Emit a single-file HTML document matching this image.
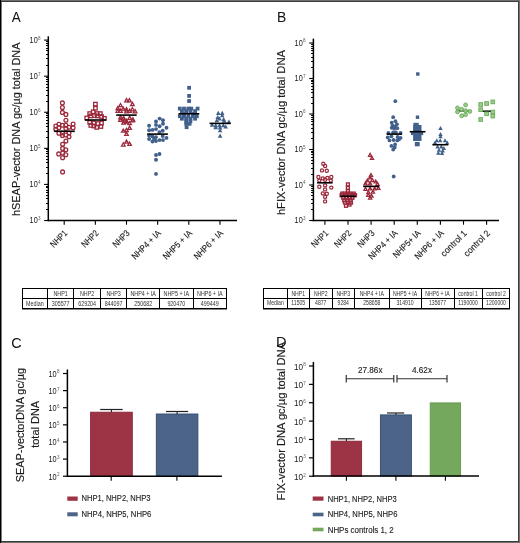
<!DOCTYPE html>
<html><head><meta charset="utf-8"><style>
html,body{margin:0;padding:0;background:#fff;}
svg{display:block;will-change:transform;}
text{font-family:"Liberation Sans", sans-serif;}
</style></head><body>
<svg width="520" height="543" viewBox="0 0 520 543" font-family="Liberation Sans, sans-serif">
<rect x="0.00" y="0.00" width="520.00" height="543.00" fill="#fff" stroke="none" stroke-width="0"/>
<rect x="0.00" y="0.00" width="520.00" height="1.00" fill="#6e6e6e" stroke="none" stroke-width="0"/>
<rect x="0.00" y="1.00" width="520.00" height="1.00" fill="#3c3c3c" stroke="none" stroke-width="0"/>
<rect x="519.00" y="0.00" width="1.00" height="543.00" fill="#707070" stroke="none" stroke-width="0"/>
<rect x="518.00" y="1.00" width="1.00" height="541.00" fill="#3c3c3c" stroke="none" stroke-width="0"/>
<rect x="0.00" y="542.00" width="520.00" height="1.00" fill="#6e6e6e" stroke="none" stroke-width="0"/>
<rect x="0.00" y="541.00" width="519.00" height="1.00" fill="#3c3c3c" stroke="none" stroke-width="0"/>
<rect x="0.00" y="0.00" width="1.00" height="543.00" fill="#000" stroke="none" stroke-width="0"/>
<rect x="1.00" y="2.00" width="1.00" height="539.00" fill="#7a7a7a" stroke="none" stroke-width="0"/>
<text x="11.80" y="21.80" font-size="15.3" text-anchor="start" fill="#111" textLength="9.00" lengthAdjust="spacingAndGlyphs" >A</text>
<text x="0" y="0" font-size="10.8" fill="#1a1a1a" stroke="#1a1a1a" stroke-width="0.15" transform="translate(19.8 216.0) rotate(-90)" textLength="173.5" lengthAdjust="spacingAndGlyphs">hSEAP-vector DNA gc/µg total DNA</text>
<line x1="48.30" y1="36.30" x2="48.30" y2="221.25" stroke="#000" stroke-width="1.5"/>
<line x1="44.10" y1="220.50" x2="48.30" y2="220.50" stroke="#000" stroke-width="1.1"/>
<text x="37.70" y="223.30" font-size="8.5" text-anchor="end" fill="#1a1a1a" textLength="8.10" lengthAdjust="spacingAndGlyphs" >10</text>
<text x="38.00" y="220.24" font-size="4.6" text-anchor="start" fill="#5a5a5a" >3</text>
<line x1="46.00" y1="209.50" x2="48.30" y2="209.50" stroke="#000" stroke-width="1.0"/>
<line x1="46.00" y1="203.50" x2="48.30" y2="203.50" stroke="#000" stroke-width="1.0"/>
<line x1="46.00" y1="198.50" x2="48.30" y2="198.50" stroke="#000" stroke-width="1.0"/>
<line x1="46.00" y1="195.50" x2="48.30" y2="195.50" stroke="#000" stroke-width="1.0"/>
<line x1="46.00" y1="192.50" x2="48.30" y2="192.50" stroke="#000" stroke-width="1.0"/>
<line x1="46.00" y1="190.50" x2="48.30" y2="190.50" stroke="#000" stroke-width="1.0"/>
<line x1="46.00" y1="187.50" x2="48.30" y2="187.50" stroke="#000" stroke-width="1.0"/>
<line x1="46.00" y1="186.50" x2="48.30" y2="186.50" stroke="#000" stroke-width="1.0"/>
<line x1="44.10" y1="184.42" x2="48.30" y2="184.42" stroke="#000" stroke-width="1.1"/>
<text x="37.70" y="187.22" font-size="8.5" text-anchor="end" fill="#1a1a1a" textLength="8.10" lengthAdjust="spacingAndGlyphs" >10</text>
<text x="38.00" y="184.16" font-size="4.6" text-anchor="start" fill="#5a5a5a" >4</text>
<line x1="46.00" y1="173.50" x2="48.30" y2="173.50" stroke="#000" stroke-width="1.0"/>
<line x1="46.00" y1="167.50" x2="48.30" y2="167.50" stroke="#000" stroke-width="1.0"/>
<line x1="46.00" y1="162.50" x2="48.30" y2="162.50" stroke="#000" stroke-width="1.0"/>
<line x1="46.00" y1="159.50" x2="48.30" y2="159.50" stroke="#000" stroke-width="1.0"/>
<line x1="46.00" y1="156.50" x2="48.30" y2="156.50" stroke="#000" stroke-width="1.0"/>
<line x1="46.00" y1="153.50" x2="48.30" y2="153.50" stroke="#000" stroke-width="1.0"/>
<line x1="46.00" y1="151.50" x2="48.30" y2="151.50" stroke="#000" stroke-width="1.0"/>
<line x1="46.00" y1="149.50" x2="48.30" y2="149.50" stroke="#000" stroke-width="1.0"/>
<line x1="44.10" y1="148.34" x2="48.30" y2="148.34" stroke="#000" stroke-width="1.1"/>
<text x="37.70" y="151.14" font-size="8.5" text-anchor="end" fill="#1a1a1a" textLength="8.10" lengthAdjust="spacingAndGlyphs" >10</text>
<text x="38.00" y="148.08" font-size="4.6" text-anchor="start" fill="#5a5a5a" >5</text>
<line x1="46.00" y1="137.50" x2="48.30" y2="137.50" stroke="#000" stroke-width="1.0"/>
<line x1="46.00" y1="131.50" x2="48.30" y2="131.50" stroke="#000" stroke-width="1.0"/>
<line x1="46.00" y1="126.50" x2="48.30" y2="126.50" stroke="#000" stroke-width="1.0"/>
<line x1="46.00" y1="123.50" x2="48.30" y2="123.50" stroke="#000" stroke-width="1.0"/>
<line x1="46.00" y1="120.50" x2="48.30" y2="120.50" stroke="#000" stroke-width="1.0"/>
<line x1="46.00" y1="117.50" x2="48.30" y2="117.50" stroke="#000" stroke-width="1.0"/>
<line x1="46.00" y1="115.50" x2="48.30" y2="115.50" stroke="#000" stroke-width="1.0"/>
<line x1="46.00" y1="113.50" x2="48.30" y2="113.50" stroke="#000" stroke-width="1.0"/>
<line x1="44.10" y1="112.26" x2="48.30" y2="112.26" stroke="#000" stroke-width="1.1"/>
<text x="37.70" y="115.06" font-size="8.5" text-anchor="end" fill="#1a1a1a" textLength="8.10" lengthAdjust="spacingAndGlyphs" >10</text>
<text x="38.00" y="112.00" font-size="4.6" text-anchor="start" fill="#5a5a5a" >6</text>
<line x1="46.00" y1="101.50" x2="48.30" y2="101.50" stroke="#000" stroke-width="1.0"/>
<line x1="46.00" y1="95.50" x2="48.30" y2="95.50" stroke="#000" stroke-width="1.0"/>
<line x1="46.00" y1="90.50" x2="48.30" y2="90.50" stroke="#000" stroke-width="1.0"/>
<line x1="46.00" y1="87.50" x2="48.30" y2="87.50" stroke="#000" stroke-width="1.0"/>
<line x1="46.00" y1="84.50" x2="48.30" y2="84.50" stroke="#000" stroke-width="1.0"/>
<line x1="46.00" y1="81.50" x2="48.30" y2="81.50" stroke="#000" stroke-width="1.0"/>
<line x1="46.00" y1="79.50" x2="48.30" y2="79.50" stroke="#000" stroke-width="1.0"/>
<line x1="46.00" y1="77.50" x2="48.30" y2="77.50" stroke="#000" stroke-width="1.0"/>
<line x1="44.10" y1="76.18" x2="48.30" y2="76.18" stroke="#000" stroke-width="1.1"/>
<text x="37.70" y="78.98" font-size="8.5" text-anchor="end" fill="#1a1a1a" textLength="8.10" lengthAdjust="spacingAndGlyphs" >10</text>
<text x="38.00" y="75.92" font-size="4.6" text-anchor="start" fill="#5a5a5a" >7</text>
<line x1="46.00" y1="65.50" x2="48.30" y2="65.50" stroke="#000" stroke-width="1.0"/>
<line x1="46.00" y1="58.50" x2="48.30" y2="58.50" stroke="#000" stroke-width="1.0"/>
<line x1="46.00" y1="54.50" x2="48.30" y2="54.50" stroke="#000" stroke-width="1.0"/>
<line x1="46.00" y1="50.50" x2="48.30" y2="50.50" stroke="#000" stroke-width="1.0"/>
<line x1="46.00" y1="48.50" x2="48.30" y2="48.50" stroke="#000" stroke-width="1.0"/>
<line x1="46.00" y1="45.50" x2="48.30" y2="45.50" stroke="#000" stroke-width="1.0"/>
<line x1="46.00" y1="43.50" x2="48.30" y2="43.50" stroke="#000" stroke-width="1.0"/>
<line x1="46.00" y1="41.50" x2="48.30" y2="41.50" stroke="#000" stroke-width="1.0"/>
<line x1="44.10" y1="40.10" x2="48.30" y2="40.10" stroke="#000" stroke-width="1.1"/>
<text x="37.70" y="42.90" font-size="8.5" text-anchor="end" fill="#1a1a1a" textLength="8.10" lengthAdjust="spacingAndGlyphs" >10</text>
<text x="38.00" y="39.84" font-size="4.6" text-anchor="start" fill="#5a5a5a" >8</text>
<line x1="47.60" y1="220.50" x2="237.00" y2="220.50" stroke="#000" stroke-width="1.5"/>
<line x1="64.20" y1="220.50" x2="64.20" y2="224.70" stroke="#000" stroke-width="1.1"/>
<text x="68.00" y="233.80" font-size="9.0" text-anchor="end" fill="#1a1a1a" stroke="#1a1a1a" stroke-width="0.12" textLength="20.00" lengthAdjust="spacingAndGlyphs" transform="rotate(-45 68.00 233.80)">NHP1</text>
<line x1="95.35" y1="220.50" x2="95.35" y2="224.70" stroke="#000" stroke-width="1.1"/>
<text x="99.15" y="233.80" font-size="9.0" text-anchor="end" fill="#1a1a1a" stroke="#1a1a1a" stroke-width="0.12" textLength="20.00" lengthAdjust="spacingAndGlyphs" transform="rotate(-45 99.15 233.80)">NHP2</text>
<line x1="126.50" y1="220.50" x2="126.50" y2="224.70" stroke="#000" stroke-width="1.1"/>
<text x="130.30" y="233.80" font-size="9.0" text-anchor="end" fill="#1a1a1a" stroke="#1a1a1a" stroke-width="0.12" textLength="20.00" lengthAdjust="spacingAndGlyphs" transform="rotate(-45 130.30 233.80)">NHP3</text>
<line x1="157.65" y1="220.50" x2="157.65" y2="224.70" stroke="#000" stroke-width="1.1"/>
<text x="161.45" y="233.80" font-size="9.0" text-anchor="end" fill="#1a1a1a" stroke="#1a1a1a" stroke-width="0.12" textLength="37.00" lengthAdjust="spacingAndGlyphs" transform="rotate(-45 161.45 233.80)">NHP4 + IA</text>
<line x1="188.80" y1="220.50" x2="188.80" y2="224.70" stroke="#000" stroke-width="1.1"/>
<text x="192.60" y="233.80" font-size="9.0" text-anchor="end" fill="#1a1a1a" stroke="#1a1a1a" stroke-width="0.12" textLength="37.00" lengthAdjust="spacingAndGlyphs" transform="rotate(-45 192.60 233.80)">NHP5 + IA</text>
<line x1="219.95" y1="220.50" x2="219.95" y2="224.70" stroke="#000" stroke-width="1.1"/>
<text x="223.75" y="233.80" font-size="9.0" text-anchor="end" fill="#1a1a1a" stroke="#1a1a1a" stroke-width="0.12" textLength="37.00" lengthAdjust="spacingAndGlyphs" transform="rotate(-45 223.75 233.80)">NHP6 + IA</text>
<circle cx="62.40" cy="102.90" r="1.9" fill="none" stroke="#9c2a3c" stroke-width="1.3"/>
<circle cx="62.40" cy="107.50" r="1.9" fill="none" stroke="#9c2a3c" stroke-width="1.3"/>
<circle cx="62.40" cy="112.40" r="1.9" fill="none" stroke="#9c2a3c" stroke-width="1.3"/>
<circle cx="65.90" cy="114.40" r="1.9" fill="none" stroke="#9c2a3c" stroke-width="1.3"/>
<circle cx="65.90" cy="120.20" r="1.9" fill="none" stroke="#9c2a3c" stroke-width="1.3"/>
<circle cx="55.80" cy="126.10" r="1.9" fill="none" stroke="#9c2a3c" stroke-width="1.3"/>
<circle cx="58.90" cy="124.20" r="1.9" fill="none" stroke="#9c2a3c" stroke-width="1.3"/>
<circle cx="62.40" cy="125.30" r="1.9" fill="none" stroke="#9c2a3c" stroke-width="1.3"/>
<circle cx="65.90" cy="125.20" r="1.9" fill="none" stroke="#9c2a3c" stroke-width="1.3"/>
<circle cx="73.10" cy="124.10" r="1.9" fill="none" stroke="#9c2a3c" stroke-width="1.3"/>
<circle cx="58.90" cy="127.80" r="1.9" fill="none" stroke="#9c2a3c" stroke-width="1.3"/>
<circle cx="55.80" cy="129.30" r="1.9" fill="none" stroke="#9c2a3c" stroke-width="1.3"/>
<circle cx="69.00" cy="127.20" r="1.9" fill="none" stroke="#9c2a3c" stroke-width="1.3"/>
<circle cx="73.10" cy="127.80" r="1.9" fill="none" stroke="#9c2a3c" stroke-width="1.3"/>
<circle cx="65.90" cy="128.40" r="1.9" fill="none" stroke="#9c2a3c" stroke-width="1.3"/>
<circle cx="58.90" cy="133.30" r="1.9" fill="none" stroke="#9c2a3c" stroke-width="1.3"/>
<circle cx="62.40" cy="133.00" r="1.9" fill="none" stroke="#9c2a3c" stroke-width="1.3"/>
<circle cx="65.90" cy="135.00" r="1.9" fill="none" stroke="#9c2a3c" stroke-width="1.3"/>
<circle cx="62.40" cy="135.60" r="1.9" fill="none" stroke="#9c2a3c" stroke-width="1.3"/>
<circle cx="69.00" cy="133.00" r="1.9" fill="none" stroke="#9c2a3c" stroke-width="1.3"/>
<circle cx="69.00" cy="136.80" r="1.9" fill="none" stroke="#9c2a3c" stroke-width="1.3"/>
<circle cx="65.90" cy="141.10" r="1.9" fill="none" stroke="#9c2a3c" stroke-width="1.3"/>
<circle cx="62.60" cy="144.20" r="1.9" fill="none" stroke="#9c2a3c" stroke-width="1.3"/>
<circle cx="62.60" cy="148.40" r="1.9" fill="none" stroke="#9c2a3c" stroke-width="1.3"/>
<circle cx="65.80" cy="149.70" r="1.9" fill="none" stroke="#9c2a3c" stroke-width="1.3"/>
<circle cx="58.70" cy="153.90" r="1.9" fill="none" stroke="#9c2a3c" stroke-width="1.3"/>
<circle cx="62.60" cy="152.90" r="1.9" fill="none" stroke="#9c2a3c" stroke-width="1.3"/>
<circle cx="65.80" cy="154.80" r="1.9" fill="none" stroke="#9c2a3c" stroke-width="1.3"/>
<circle cx="62.60" cy="157.70" r="1.9" fill="none" stroke="#9c2a3c" stroke-width="1.3"/>
<circle cx="62.60" cy="171.90" r="1.9" fill="none" stroke="#9c2a3c" stroke-width="1.3"/>
<line x1="54.00" y1="131.30" x2="74.80" y2="131.30" stroke="#000" stroke-width="1.6"/>
<rect x="93.65" y="102.35" width="3.5" height="3.5" fill="none" stroke="#9c2a3c" stroke-width="1.3"/>
<rect x="93.65" y="106.55" width="3.5" height="3.5" fill="none" stroke="#9c2a3c" stroke-width="1.3"/>
<rect x="91.45" y="110.05" width="3.5" height="3.5" fill="none" stroke="#9c2a3c" stroke-width="1.3"/>
<rect x="87.95" y="111.85" width="3.5" height="3.5" fill="none" stroke="#9c2a3c" stroke-width="1.3"/>
<rect x="95.25" y="111.85" width="3.5" height="3.5" fill="none" stroke="#9c2a3c" stroke-width="1.3"/>
<rect x="98.55" y="111.85" width="3.5" height="3.5" fill="none" stroke="#9c2a3c" stroke-width="1.3"/>
<rect x="89.05" y="114.15" width="3.5" height="3.5" fill="none" stroke="#9c2a3c" stroke-width="1.3"/>
<rect x="92.65" y="113.85" width="3.5" height="3.5" fill="none" stroke="#9c2a3c" stroke-width="1.3"/>
<rect x="95.55" y="114.15" width="3.5" height="3.5" fill="none" stroke="#9c2a3c" stroke-width="1.3"/>
<rect x="99.75" y="114.75" width="3.5" height="3.5" fill="none" stroke="#9c2a3c" stroke-width="1.3"/>
<rect x="84.95" y="116.25" width="3.5" height="3.5" fill="none" stroke="#9c2a3c" stroke-width="1.3"/>
<rect x="102.65" y="116.55" width="3.5" height="3.5" fill="none" stroke="#9c2a3c" stroke-width="1.3"/>
<rect x="87.95" y="120.65" width="3.5" height="3.5" fill="none" stroke="#9c2a3c" stroke-width="1.3"/>
<rect x="92.05" y="121.25" width="3.5" height="3.5" fill="none" stroke="#9c2a3c" stroke-width="1.3"/>
<rect x="96.15" y="121.85" width="3.5" height="3.5" fill="none" stroke="#9c2a3c" stroke-width="1.3"/>
<rect x="99.75" y="121.25" width="3.5" height="3.5" fill="none" stroke="#9c2a3c" stroke-width="1.3"/>
<rect x="89.05" y="123.65" width="3.5" height="3.5" fill="none" stroke="#9c2a3c" stroke-width="1.3"/>
<rect x="99.15" y="124.75" width="3.5" height="3.5" fill="none" stroke="#9c2a3c" stroke-width="1.3"/>
<rect x="94.95" y="125.65" width="3.5" height="3.5" fill="none" stroke="#9c2a3c" stroke-width="1.3"/>
<rect x="92.05" y="124.25" width="3.5" height="3.5" fill="none" stroke="#9c2a3c" stroke-width="1.3"/>
<line x1="85.00" y1="120.00" x2="106.20" y2="120.00" stroke="#000" stroke-width="1.6"/>
<polygon points="126.50,98.66 128.30,101.90 124.70,101.90" fill="none" stroke="#9c2a3c" stroke-width="1.25" stroke-linejoin="miter"/>
<polygon points="129.40,98.66 131.20,101.90 127.60,101.90" fill="none" stroke="#9c2a3c" stroke-width="1.25" stroke-linejoin="miter"/>
<polygon points="132.40,102.36 134.20,105.60 130.60,105.60" fill="none" stroke="#9c2a3c" stroke-width="1.25" stroke-linejoin="miter"/>
<polygon points="120.50,103.46 122.30,106.70 118.70,106.70" fill="none" stroke="#9c2a3c" stroke-width="1.25" stroke-linejoin="miter"/>
<polygon points="117.80,106.46 119.60,109.70 116.00,109.70" fill="none" stroke="#9c2a3c" stroke-width="1.25" stroke-linejoin="miter"/>
<polygon points="123.20,106.96 125.00,110.20 121.40,110.20" fill="none" stroke="#9c2a3c" stroke-width="1.25" stroke-linejoin="miter"/>
<polygon points="126.50,107.56 128.30,110.80 124.70,110.80" fill="none" stroke="#9c2a3c" stroke-width="1.25" stroke-linejoin="miter"/>
<polygon points="132.40,107.56 134.20,110.80 130.60,110.80" fill="none" stroke="#9c2a3c" stroke-width="1.25" stroke-linejoin="miter"/>
<polygon points="117.80,109.06 119.60,112.30 116.00,112.30" fill="none" stroke="#9c2a3c" stroke-width="1.25" stroke-linejoin="miter"/>
<polygon points="120.50,109.06 122.30,112.30 118.70,112.30" fill="none" stroke="#9c2a3c" stroke-width="1.25" stroke-linejoin="miter"/>
<polygon points="126.50,109.66 128.30,112.90 124.70,112.90" fill="none" stroke="#9c2a3c" stroke-width="1.25" stroke-linejoin="miter"/>
<polygon points="129.70,109.06 131.50,112.30 127.90,112.30" fill="none" stroke="#9c2a3c" stroke-width="1.25" stroke-linejoin="miter"/>
<polygon points="135.10,109.66 136.90,112.90 133.30,112.90" fill="none" stroke="#9c2a3c" stroke-width="1.25" stroke-linejoin="miter"/>
<polygon points="120.50,115.56 122.30,118.80 118.70,118.80" fill="none" stroke="#9c2a3c" stroke-width="1.25" stroke-linejoin="miter"/>
<polygon points="123.80,116.66 125.60,119.90 122.00,119.90" fill="none" stroke="#9c2a3c" stroke-width="1.25" stroke-linejoin="miter"/>
<polygon points="129.70,116.06 131.50,119.30 127.90,119.30" fill="none" stroke="#9c2a3c" stroke-width="1.25" stroke-linejoin="miter"/>
<polygon points="132.90,117.76 134.70,121.00 131.10,121.00" fill="none" stroke="#9c2a3c" stroke-width="1.25" stroke-linejoin="miter"/>
<polygon points="126.50,119.36 128.30,122.60 124.70,122.60" fill="none" stroke="#9c2a3c" stroke-width="1.25" stroke-linejoin="miter"/>
<polygon points="123.30,116.76 125.10,120.00 121.50,120.00" fill="none" stroke="#9c2a3c" stroke-width="1.25" stroke-linejoin="miter"/>
<polygon points="120.50,118.06 122.30,121.30 118.70,121.30" fill="none" stroke="#9c2a3c" stroke-width="1.25" stroke-linejoin="miter"/>
<polygon points="132.70,118.66 134.50,121.90 130.90,121.90" fill="none" stroke="#9c2a3c" stroke-width="1.25" stroke-linejoin="miter"/>
<polygon points="123.60,120.86 125.40,124.10 121.80,124.10" fill="none" stroke="#9c2a3c" stroke-width="1.25" stroke-linejoin="miter"/>
<polygon points="126.50,119.86 128.30,123.10 124.70,123.10" fill="none" stroke="#9c2a3c" stroke-width="1.25" stroke-linejoin="miter"/>
<polygon points="129.60,121.46 131.40,124.70 127.80,124.70" fill="none" stroke="#9c2a3c" stroke-width="1.25" stroke-linejoin="miter"/>
<polygon points="129.60,126.16 131.40,129.40 127.80,129.40" fill="none" stroke="#9c2a3c" stroke-width="1.25" stroke-linejoin="miter"/>
<polygon points="126.50,128.36 128.30,131.60 124.70,131.60" fill="none" stroke="#9c2a3c" stroke-width="1.25" stroke-linejoin="miter"/>
<polygon points="123.30,128.96 125.10,132.20 121.50,132.20" fill="none" stroke="#9c2a3c" stroke-width="1.25" stroke-linejoin="miter"/>
<polygon points="126.50,132.06 128.30,135.30 124.70,135.30" fill="none" stroke="#9c2a3c" stroke-width="1.25" stroke-linejoin="miter"/>
<polygon points="126.50,139.96 128.30,143.20 124.70,143.20" fill="none" stroke="#9c2a3c" stroke-width="1.25" stroke-linejoin="miter"/>
<polygon points="123.30,142.76 125.10,146.00 121.50,146.00" fill="none" stroke="#9c2a3c" stroke-width="1.25" stroke-linejoin="miter"/>
<polygon points="129.60,142.16 131.40,145.40 127.80,145.40" fill="none" stroke="#9c2a3c" stroke-width="1.25" stroke-linejoin="miter"/>
<line x1="116.20" y1="115.10" x2="136.70" y2="115.10" stroke="#000" stroke-width="1.6"/>
<circle cx="159.60" cy="118.60" r="1.95" fill="#41608c"/>
<circle cx="156.00" cy="121.40" r="1.95" fill="#41608c"/>
<circle cx="163.00" cy="120.20" r="1.95" fill="#41608c"/>
<circle cx="163.00" cy="123.80" r="1.95" fill="#41608c"/>
<circle cx="156.00" cy="124.90" r="1.95" fill="#41608c"/>
<circle cx="159.60" cy="126.30" r="1.95" fill="#41608c"/>
<circle cx="149.10" cy="125.80" r="1.95" fill="#41608c"/>
<circle cx="166.50" cy="127.70" r="1.95" fill="#41608c"/>
<circle cx="149.10" cy="130.20" r="1.95" fill="#41608c"/>
<circle cx="152.50" cy="129.90" r="1.95" fill="#41608c"/>
<circle cx="156.00" cy="129.10" r="1.95" fill="#41608c"/>
<circle cx="159.40" cy="132.10" r="1.95" fill="#41608c"/>
<circle cx="162.70" cy="130.70" r="1.95" fill="#41608c"/>
<circle cx="149.10" cy="135.40" r="1.95" fill="#41608c"/>
<circle cx="152.50" cy="136.50" r="1.95" fill="#41608c"/>
<circle cx="156.00" cy="137.10" r="1.95" fill="#41608c"/>
<circle cx="162.70" cy="136.00" r="1.95" fill="#41608c"/>
<circle cx="166.50" cy="137.90" r="1.95" fill="#41608c"/>
<circle cx="149.10" cy="139.00" r="1.95" fill="#41608c"/>
<circle cx="152.50" cy="141.50" r="1.95" fill="#41608c"/>
<circle cx="156.00" cy="141.00" r="1.95" fill="#41608c"/>
<circle cx="159.60" cy="140.10" r="1.95" fill="#41608c"/>
<circle cx="163.00" cy="140.10" r="1.95" fill="#41608c"/>
<circle cx="154.10" cy="138.80" r="1.95" fill="#41608c"/>
<circle cx="156.00" cy="155.00" r="1.95" fill="#41608c"/>
<circle cx="159.50" cy="154.00" r="1.95" fill="#41608c"/>
<circle cx="156.00" cy="159.70" r="1.95" fill="#41608c"/>
<circle cx="156.00" cy="173.90" r="1.95" fill="#41608c"/>
<line x1="147.20" y1="134.10" x2="167.90" y2="134.10" stroke="#000" stroke-width="1.6"/>
<rect x="187.20" y="85.90" width="3.8" height="3.8" fill="#41608c"/>
<rect x="187.20" y="94.00" width="3.8" height="3.8" fill="#41608c"/>
<rect x="187.20" y="99.10" width="3.8" height="3.8" fill="#41608c"/>
<rect x="177.90" y="106.70" width="3.8" height="3.8" fill="#41608c"/>
<rect x="182.10" y="106.70" width="3.8" height="3.8" fill="#41608c"/>
<rect x="186.40" y="106.70" width="3.8" height="3.8" fill="#41608c"/>
<rect x="189.40" y="106.70" width="3.8" height="3.8" fill="#41608c"/>
<rect x="195.70" y="106.70" width="3.8" height="3.8" fill="#41608c"/>
<rect x="180.00" y="109.20" width="3.8" height="3.8" fill="#41608c"/>
<rect x="184.30" y="109.20" width="3.8" height="3.8" fill="#41608c"/>
<rect x="188.50" y="109.20" width="3.8" height="3.8" fill="#41608c"/>
<rect x="193.20" y="109.20" width="3.8" height="3.8" fill="#41608c"/>
<rect x="177.90" y="114.30" width="3.8" height="3.8" fill="#41608c"/>
<rect x="182.10" y="114.30" width="3.8" height="3.8" fill="#41608c"/>
<rect x="186.40" y="114.30" width="3.8" height="3.8" fill="#41608c"/>
<rect x="191.00" y="114.30" width="3.8" height="3.8" fill="#41608c"/>
<rect x="194.90" y="114.30" width="3.8" height="3.8" fill="#41608c"/>
<rect x="180.00" y="116.80" width="3.8" height="3.8" fill="#41608c"/>
<rect x="184.30" y="116.80" width="3.8" height="3.8" fill="#41608c"/>
<rect x="188.50" y="116.80" width="3.8" height="3.8" fill="#41608c"/>
<rect x="193.20" y="116.80" width="3.8" height="3.8" fill="#41608c"/>
<rect x="184.30" y="119.40" width="3.8" height="3.8" fill="#41608c"/>
<rect x="188.50" y="119.40" width="3.8" height="3.8" fill="#41608c"/>
<rect x="184.30" y="121.90" width="3.8" height="3.8" fill="#41608c"/>
<rect x="187.70" y="121.90" width="3.8" height="3.8" fill="#41608c"/>
<rect x="184.70" y="125.30" width="3.8" height="3.8" fill="#41608c"/>
<rect x="182.10" y="111.90" width="3.8" height="3.8" fill="#41608c"/>
<rect x="192.10" y="111.90" width="3.8" height="3.8" fill="#41608c"/>
<line x1="178.50" y1="113.80" x2="199.30" y2="113.80" stroke="#000" stroke-width="1.6"/>
<polygon points="218.30,110.82 220.60,114.96 216.00,114.96" fill="#41608c"/>
<polygon points="222.20,110.82 224.50,114.96 219.90,114.96" fill="#41608c"/>
<polygon points="222.20,113.22 224.50,117.36 219.90,117.36" fill="#41608c"/>
<polygon points="217.70,114.92 220.00,119.06 215.40,119.06" fill="#41608c"/>
<polygon points="219.50,116.42 221.80,120.56 217.20,120.56" fill="#41608c"/>
<polygon points="223.60,117.02 225.90,121.16 221.30,121.16" fill="#41608c"/>
<polygon points="216.80,118.22 219.10,122.36 214.50,122.36" fill="#41608c"/>
<polygon points="224.20,118.52 226.50,122.66 221.90,122.66" fill="#41608c"/>
<polygon points="228.90,119.42 231.20,123.56 226.60,123.56" fill="#41608c"/>
<polygon points="212.10,122.62 214.40,126.76 209.80,126.76" fill="#41608c"/>
<polygon points="215.70,123.22 218.00,127.36 213.40,127.36" fill="#41608c"/>
<polygon points="219.50,123.22 221.80,127.36 217.20,127.36" fill="#41608c"/>
<polygon points="223.30,123.22 225.60,127.36 221.00,127.36" fill="#41608c"/>
<polygon points="225.70,124.42 228.00,128.56 223.40,128.56" fill="#41608c"/>
<polygon points="215.70,125.02 218.00,129.16 213.40,129.16" fill="#41608c"/>
<polygon points="220.10,125.32 222.40,129.46 217.80,129.46" fill="#41608c"/>
<polygon points="220.10,128.22 222.40,132.36 217.80,132.36" fill="#41608c"/>
<polygon points="220.10,133.52 222.40,137.66 217.80,137.66" fill="#41608c"/>
<line x1="209.50" y1="123.40" x2="230.70" y2="123.40" stroke="#000" stroke-width="1.6"/>
<text x="276.90" y="21.80" font-size="15.3" text-anchor="start" fill="#111" textLength="9.30" lengthAdjust="spacingAndGlyphs" >B</text>
<text x="0" y="0" font-size="11" fill="#1a1a1a" stroke="#1a1a1a" stroke-width="0.15" transform="translate(284.8 215.1) rotate(-90)" textLength="165" lengthAdjust="spacingAndGlyphs">hFIX-vector DNA gc/µg total DNA</text>
<line x1="313.40" y1="38.60" x2="313.40" y2="221.25" stroke="#000" stroke-width="1.5"/>
<line x1="309.20" y1="220.50" x2="313.40" y2="220.50" stroke="#000" stroke-width="1.1"/>
<text x="302.70" y="223.00" font-size="8.5" text-anchor="end" fill="#1a1a1a" textLength="8.10" lengthAdjust="spacingAndGlyphs" >10</text>
<text x="303.00" y="219.94" font-size="4.6" text-anchor="start" fill="#5a5a5a" >3</text>
<line x1="311.10" y1="209.50" x2="313.40" y2="209.50" stroke="#000" stroke-width="1.0"/>
<line x1="311.10" y1="203.50" x2="313.40" y2="203.50" stroke="#000" stroke-width="1.0"/>
<line x1="311.10" y1="199.50" x2="313.40" y2="199.50" stroke="#000" stroke-width="1.0"/>
<line x1="311.10" y1="195.50" x2="313.40" y2="195.50" stroke="#000" stroke-width="1.0"/>
<line x1="311.10" y1="192.50" x2="313.40" y2="192.50" stroke="#000" stroke-width="1.0"/>
<line x1="311.10" y1="190.50" x2="313.40" y2="190.50" stroke="#000" stroke-width="1.0"/>
<line x1="311.10" y1="188.50" x2="313.40" y2="188.50" stroke="#000" stroke-width="1.0"/>
<line x1="311.10" y1="186.50" x2="313.40" y2="186.50" stroke="#000" stroke-width="1.0"/>
<line x1="309.20" y1="185.00" x2="313.40" y2="185.00" stroke="#000" stroke-width="1.1"/>
<text x="302.70" y="187.50" font-size="8.5" text-anchor="end" fill="#1a1a1a" textLength="8.10" lengthAdjust="spacingAndGlyphs" >10</text>
<text x="303.00" y="184.44" font-size="4.6" text-anchor="start" fill="#5a5a5a" >4</text>
<line x1="311.10" y1="174.50" x2="313.40" y2="174.50" stroke="#000" stroke-width="1.0"/>
<line x1="311.10" y1="168.50" x2="313.40" y2="168.50" stroke="#000" stroke-width="1.0"/>
<line x1="311.10" y1="163.50" x2="313.40" y2="163.50" stroke="#000" stroke-width="1.0"/>
<line x1="311.10" y1="160.50" x2="313.40" y2="160.50" stroke="#000" stroke-width="1.0"/>
<line x1="311.10" y1="157.50" x2="313.40" y2="157.50" stroke="#000" stroke-width="1.0"/>
<line x1="311.10" y1="154.50" x2="313.40" y2="154.50" stroke="#000" stroke-width="1.0"/>
<line x1="311.10" y1="152.50" x2="313.40" y2="152.50" stroke="#000" stroke-width="1.0"/>
<line x1="311.10" y1="151.50" x2="313.40" y2="151.50" stroke="#000" stroke-width="1.0"/>
<line x1="309.20" y1="149.50" x2="313.40" y2="149.50" stroke="#000" stroke-width="1.1"/>
<text x="302.70" y="152.00" font-size="8.5" text-anchor="end" fill="#1a1a1a" textLength="8.10" lengthAdjust="spacingAndGlyphs" >10</text>
<text x="303.00" y="148.94" font-size="4.6" text-anchor="start" fill="#5a5a5a" >5</text>
<line x1="311.10" y1="138.50" x2="313.40" y2="138.50" stroke="#000" stroke-width="1.0"/>
<line x1="311.10" y1="132.50" x2="313.40" y2="132.50" stroke="#000" stroke-width="1.0"/>
<line x1="311.10" y1="128.50" x2="313.40" y2="128.50" stroke="#000" stroke-width="1.0"/>
<line x1="311.10" y1="124.50" x2="313.40" y2="124.50" stroke="#000" stroke-width="1.0"/>
<line x1="311.10" y1="121.50" x2="313.40" y2="121.50" stroke="#000" stroke-width="1.0"/>
<line x1="311.10" y1="119.50" x2="313.40" y2="119.50" stroke="#000" stroke-width="1.0"/>
<line x1="311.10" y1="117.50" x2="313.40" y2="117.50" stroke="#000" stroke-width="1.0"/>
<line x1="311.10" y1="115.50" x2="313.40" y2="115.50" stroke="#000" stroke-width="1.0"/>
<line x1="309.20" y1="114.00" x2="313.40" y2="114.00" stroke="#000" stroke-width="1.1"/>
<text x="302.70" y="116.50" font-size="8.5" text-anchor="end" fill="#1a1a1a" textLength="8.10" lengthAdjust="spacingAndGlyphs" >10</text>
<text x="303.00" y="113.44" font-size="4.6" text-anchor="start" fill="#5a5a5a" >6</text>
<line x1="311.10" y1="103.50" x2="313.40" y2="103.50" stroke="#000" stroke-width="1.0"/>
<line x1="311.10" y1="97.50" x2="313.40" y2="97.50" stroke="#000" stroke-width="1.0"/>
<line x1="311.10" y1="92.50" x2="313.40" y2="92.50" stroke="#000" stroke-width="1.0"/>
<line x1="311.10" y1="89.50" x2="313.40" y2="89.50" stroke="#000" stroke-width="1.0"/>
<line x1="311.10" y1="86.50" x2="313.40" y2="86.50" stroke="#000" stroke-width="1.0"/>
<line x1="311.10" y1="83.50" x2="313.40" y2="83.50" stroke="#000" stroke-width="1.0"/>
<line x1="311.10" y1="81.50" x2="313.40" y2="81.50" stroke="#000" stroke-width="1.0"/>
<line x1="311.10" y1="80.50" x2="313.40" y2="80.50" stroke="#000" stroke-width="1.0"/>
<line x1="309.20" y1="78.50" x2="313.40" y2="78.50" stroke="#000" stroke-width="1.1"/>
<text x="302.70" y="81.00" font-size="8.5" text-anchor="end" fill="#1a1a1a" textLength="8.10" lengthAdjust="spacingAndGlyphs" >10</text>
<text x="303.00" y="77.94" font-size="4.6" text-anchor="start" fill="#5a5a5a" >7</text>
<line x1="311.10" y1="67.50" x2="313.40" y2="67.50" stroke="#000" stroke-width="1.0"/>
<line x1="311.10" y1="61.50" x2="313.40" y2="61.50" stroke="#000" stroke-width="1.0"/>
<line x1="311.10" y1="57.50" x2="313.40" y2="57.50" stroke="#000" stroke-width="1.0"/>
<line x1="311.10" y1="53.50" x2="313.40" y2="53.50" stroke="#000" stroke-width="1.0"/>
<line x1="311.10" y1="50.50" x2="313.40" y2="50.50" stroke="#000" stroke-width="1.0"/>
<line x1="311.10" y1="48.50" x2="313.40" y2="48.50" stroke="#000" stroke-width="1.0"/>
<line x1="311.10" y1="46.50" x2="313.40" y2="46.50" stroke="#000" stroke-width="1.0"/>
<line x1="311.10" y1="44.50" x2="313.40" y2="44.50" stroke="#000" stroke-width="1.0"/>
<line x1="309.20" y1="43.00" x2="313.40" y2="43.00" stroke="#000" stroke-width="1.1"/>
<text x="302.70" y="45.50" font-size="8.5" text-anchor="end" fill="#1a1a1a" textLength="8.10" lengthAdjust="spacingAndGlyphs" >10</text>
<text x="303.00" y="42.44" font-size="4.6" text-anchor="start" fill="#5a5a5a" >8</text>
<line x1="312.70" y1="220.50" x2="499.00" y2="220.50" stroke="#000" stroke-width="1.5"/>
<line x1="324.90" y1="220.50" x2="324.90" y2="224.70" stroke="#000" stroke-width="1.1"/>
<text x="328.90" y="233.80" font-size="9.0" text-anchor="end" fill="#1a1a1a" stroke="#1a1a1a" stroke-width="0.12" textLength="20.00" lengthAdjust="spacingAndGlyphs" transform="rotate(-45 328.90 233.80)">NHP1</text>
<line x1="348.00" y1="220.50" x2="348.00" y2="224.70" stroke="#000" stroke-width="1.1"/>
<text x="352.00" y="233.80" font-size="9.0" text-anchor="end" fill="#1a1a1a" stroke="#1a1a1a" stroke-width="0.12" textLength="20.00" lengthAdjust="spacingAndGlyphs" transform="rotate(-45 352.00 233.80)">NHP2</text>
<line x1="371.10" y1="220.50" x2="371.10" y2="224.70" stroke="#000" stroke-width="1.1"/>
<text x="375.10" y="233.80" font-size="9.0" text-anchor="end" fill="#1a1a1a" stroke="#1a1a1a" stroke-width="0.12" textLength="20.00" lengthAdjust="spacingAndGlyphs" transform="rotate(-45 375.10 233.80)">NHP3</text>
<line x1="394.20" y1="220.50" x2="394.20" y2="224.70" stroke="#000" stroke-width="1.1"/>
<text x="398.20" y="233.80" font-size="9.0" text-anchor="end" fill="#1a1a1a" stroke="#1a1a1a" stroke-width="0.12" textLength="37.00" lengthAdjust="spacingAndGlyphs" transform="rotate(-45 398.20 233.80)">NHP4 + IA</text>
<line x1="417.30" y1="220.50" x2="417.30" y2="224.70" stroke="#000" stroke-width="1.1"/>
<text x="421.30" y="233.80" font-size="9.0" text-anchor="end" fill="#1a1a1a" stroke="#1a1a1a" stroke-width="0.12" textLength="35.00" lengthAdjust="spacingAndGlyphs" transform="rotate(-45 421.30 233.80)">NHP5+ IA</text>
<line x1="440.40" y1="220.50" x2="440.40" y2="224.70" stroke="#000" stroke-width="1.1"/>
<text x="444.40" y="233.80" font-size="9.0" text-anchor="end" fill="#1a1a1a" stroke="#1a1a1a" stroke-width="0.12" textLength="37.00" lengthAdjust="spacingAndGlyphs" transform="rotate(-45 444.40 233.80)">NHP6 + IA</text>
<line x1="463.50" y1="220.50" x2="463.50" y2="224.70" stroke="#000" stroke-width="1.1"/>
<text x="467.50" y="233.80" font-size="9.0" text-anchor="end" fill="#1a1a1a" stroke="#1a1a1a" stroke-width="0.12" textLength="33.00" lengthAdjust="spacingAndGlyphs" transform="rotate(-45 467.50 233.80)">control 1</text>
<line x1="486.60" y1="220.50" x2="486.60" y2="224.70" stroke="#000" stroke-width="1.1"/>
<text x="490.60" y="233.80" font-size="9.0" text-anchor="end" fill="#1a1a1a" stroke="#1a1a1a" stroke-width="0.12" textLength="33.00" lengthAdjust="spacingAndGlyphs" transform="rotate(-45 490.60 233.80)">control 2</text>
<circle cx="323.30" cy="163.80" r="1.6" fill="none" stroke="#9c2a3c" stroke-width="1.25"/>
<circle cx="325.10" cy="166.00" r="1.6" fill="none" stroke="#9c2a3c" stroke-width="1.25"/>
<circle cx="322.00" cy="170.40" r="1.6" fill="none" stroke="#9c2a3c" stroke-width="1.25"/>
<circle cx="326.80" cy="170.80" r="1.6" fill="none" stroke="#9c2a3c" stroke-width="1.25"/>
<circle cx="318.40" cy="177.00" r="1.6" fill="none" stroke="#9c2a3c" stroke-width="1.25"/>
<circle cx="331.30" cy="177.00" r="1.6" fill="none" stroke="#9c2a3c" stroke-width="1.25"/>
<circle cx="322.80" cy="178.40" r="1.6" fill="none" stroke="#9c2a3c" stroke-width="1.25"/>
<circle cx="327.30" cy="177.90" r="1.6" fill="none" stroke="#9c2a3c" stroke-width="1.25"/>
<circle cx="325.10" cy="179.70" r="1.6" fill="none" stroke="#9c2a3c" stroke-width="1.25"/>
<circle cx="319.30" cy="180.60" r="1.6" fill="none" stroke="#9c2a3c" stroke-width="1.25"/>
<circle cx="330.80" cy="180.60" r="1.6" fill="none" stroke="#9c2a3c" stroke-width="1.25"/>
<circle cx="319.30" cy="186.80" r="1.6" fill="none" stroke="#9c2a3c" stroke-width="1.25"/>
<circle cx="331.30" cy="187.60" r="1.6" fill="none" stroke="#9c2a3c" stroke-width="1.25"/>
<circle cx="325.10" cy="185.40" r="1.6" fill="none" stroke="#9c2a3c" stroke-width="1.25"/>
<circle cx="325.10" cy="189.40" r="1.6" fill="none" stroke="#9c2a3c" stroke-width="1.25"/>
<circle cx="322.80" cy="193.40" r="1.6" fill="none" stroke="#9c2a3c" stroke-width="1.25"/>
<circle cx="326.80" cy="193.80" r="1.6" fill="none" stroke="#9c2a3c" stroke-width="1.25"/>
<circle cx="325.10" cy="196.90" r="1.6" fill="none" stroke="#9c2a3c" stroke-width="1.25"/>
<circle cx="325.10" cy="201.40" r="1.6" fill="none" stroke="#9c2a3c" stroke-width="1.25"/>
<line x1="317.10" y1="182.80" x2="332.60" y2="182.80" stroke="#000" stroke-width="1.6"/>
<rect x="346.45" y="182.95" width="2.9" height="2.9" fill="none" stroke="#9c2a3c" stroke-width="1.35"/>
<rect x="346.45" y="186.45" width="2.9" height="2.9" fill="none" stroke="#9c2a3c" stroke-width="1.35"/>
<rect x="346.45" y="189.55" width="2.9" height="2.9" fill="none" stroke="#9c2a3c" stroke-width="1.35"/>
<rect x="340.75" y="192.15" width="2.9" height="2.9" fill="none" stroke="#9c2a3c" stroke-width="1.35"/>
<rect x="343.35" y="192.15" width="2.9" height="2.9" fill="none" stroke="#9c2a3c" stroke-width="1.35"/>
<rect x="345.95" y="192.15" width="2.9" height="2.9" fill="none" stroke="#9c2a3c" stroke-width="1.35"/>
<rect x="348.75" y="192.15" width="2.9" height="2.9" fill="none" stroke="#9c2a3c" stroke-width="1.35"/>
<rect x="352.35" y="192.15" width="2.9" height="2.9" fill="none" stroke="#9c2a3c" stroke-width="1.35"/>
<rect x="340.15" y="193.75" width="2.9" height="2.9" fill="none" stroke="#9c2a3c" stroke-width="1.35"/>
<rect x="344.05" y="193.75" width="2.9" height="2.9" fill="none" stroke="#9c2a3c" stroke-width="1.35"/>
<rect x="347.55" y="193.75" width="2.9" height="2.9" fill="none" stroke="#9c2a3c" stroke-width="1.35"/>
<rect x="351.15" y="193.75" width="2.9" height="2.9" fill="none" stroke="#9c2a3c" stroke-width="1.35"/>
<rect x="353.55" y="193.75" width="2.9" height="2.9" fill="none" stroke="#9c2a3c" stroke-width="1.35"/>
<rect x="341.85" y="196.35" width="2.9" height="2.9" fill="none" stroke="#9c2a3c" stroke-width="1.35"/>
<rect x="344.95" y="196.35" width="2.9" height="2.9" fill="none" stroke="#9c2a3c" stroke-width="1.35"/>
<rect x="348.15" y="196.35" width="2.9" height="2.9" fill="none" stroke="#9c2a3c" stroke-width="1.35"/>
<rect x="350.95" y="196.35" width="2.9" height="2.9" fill="none" stroke="#9c2a3c" stroke-width="1.35"/>
<rect x="342.75" y="198.85" width="2.9" height="2.9" fill="none" stroke="#9c2a3c" stroke-width="1.35"/>
<rect x="345.95" y="198.85" width="2.9" height="2.9" fill="none" stroke="#9c2a3c" stroke-width="1.35"/>
<rect x="349.15" y="198.85" width="2.9" height="2.9" fill="none" stroke="#9c2a3c" stroke-width="1.35"/>
<rect x="343.55" y="201.15" width="2.9" height="2.9" fill="none" stroke="#9c2a3c" stroke-width="1.35"/>
<rect x="346.75" y="201.15" width="2.9" height="2.9" fill="none" stroke="#9c2a3c" stroke-width="1.35"/>
<rect x="349.55" y="201.15" width="2.9" height="2.9" fill="none" stroke="#9c2a3c" stroke-width="1.35"/>
<rect x="344.55" y="204.35" width="2.9" height="2.9" fill="none" stroke="#9c2a3c" stroke-width="1.35"/>
<rect x="348.05" y="203.15" width="2.9" height="2.9" fill="none" stroke="#9c2a3c" stroke-width="1.35"/>
<line x1="340.20" y1="196.30" x2="356.00" y2="196.30" stroke="#000" stroke-width="1.6"/>
<polygon points="370.10,153.37 371.70,156.25 368.50,156.25" fill="none" stroke="#9c2a3c" stroke-width="1.25" stroke-linejoin="miter"/>
<polygon points="372.00,156.57 373.60,159.45 370.40,159.45" fill="none" stroke="#9c2a3c" stroke-width="1.25" stroke-linejoin="miter"/>
<polygon points="371.00,173.57 372.60,176.45 369.40,176.45" fill="none" stroke="#9c2a3c" stroke-width="1.25" stroke-linejoin="miter"/>
<polygon points="370.10,175.87 371.70,178.75 368.50,178.75" fill="none" stroke="#9c2a3c" stroke-width="1.25" stroke-linejoin="miter"/>
<polygon points="367.40,179.07 369.00,181.95 365.80,181.95" fill="none" stroke="#9c2a3c" stroke-width="1.25" stroke-linejoin="miter"/>
<polygon points="372.40,178.67 374.00,181.55 370.80,181.55" fill="none" stroke="#9c2a3c" stroke-width="1.25" stroke-linejoin="miter"/>
<polygon points="375.70,180.07 377.30,182.95 374.10,182.95" fill="none" stroke="#9c2a3c" stroke-width="1.25" stroke-linejoin="miter"/>
<polygon points="365.50,181.87 367.10,184.75 363.90,184.75" fill="none" stroke="#9c2a3c" stroke-width="1.25" stroke-linejoin="miter"/>
<polygon points="370.10,181.87 371.70,184.75 368.50,184.75" fill="none" stroke="#9c2a3c" stroke-width="1.25" stroke-linejoin="miter"/>
<polygon points="377.50,182.37 379.10,185.25 375.90,185.25" fill="none" stroke="#9c2a3c" stroke-width="1.25" stroke-linejoin="miter"/>
<polygon points="365.50,187.37 367.10,190.25 363.90,190.25" fill="none" stroke="#9c2a3c" stroke-width="1.25" stroke-linejoin="miter"/>
<polygon points="370.10,186.97 371.70,189.85 368.50,189.85" fill="none" stroke="#9c2a3c" stroke-width="1.25" stroke-linejoin="miter"/>
<polygon points="374.70,186.97 376.30,189.85 373.10,189.85" fill="none" stroke="#9c2a3c" stroke-width="1.25" stroke-linejoin="miter"/>
<polygon points="378.40,186.47 380.00,189.35 376.80,189.35" fill="none" stroke="#9c2a3c" stroke-width="1.25" stroke-linejoin="miter"/>
<polygon points="368.30,190.67 369.90,193.55 366.70,193.55" fill="none" stroke="#9c2a3c" stroke-width="1.25" stroke-linejoin="miter"/>
<polygon points="372.90,190.17 374.50,193.05 371.30,193.05" fill="none" stroke="#9c2a3c" stroke-width="1.25" stroke-linejoin="miter"/>
<polygon points="368.30,193.37 369.90,196.25 366.70,196.25" fill="none" stroke="#9c2a3c" stroke-width="1.25" stroke-linejoin="miter"/>
<polygon points="371.50,194.27 373.10,197.15 369.90,197.15" fill="none" stroke="#9c2a3c" stroke-width="1.25" stroke-linejoin="miter"/>
<polygon points="370.10,196.17 371.70,199.05 368.50,199.05" fill="none" stroke="#9c2a3c" stroke-width="1.25" stroke-linejoin="miter"/>
<line x1="363.20" y1="186.40" x2="379.30" y2="186.40" stroke="#000" stroke-width="1.6"/>
<circle cx="395.30" cy="101.20" r="1.9" fill="#41608c"/>
<circle cx="393.20" cy="117.20" r="1.9" fill="#41608c"/>
<circle cx="395.40" cy="121.20" r="1.9" fill="#41608c"/>
<circle cx="391.70" cy="122.70" r="1.9" fill="#41608c"/>
<circle cx="396.90" cy="124.20" r="1.9" fill="#41608c"/>
<circle cx="392.50" cy="125.60" r="1.9" fill="#41608c"/>
<circle cx="395.10" cy="126.40" r="1.9" fill="#41608c"/>
<circle cx="391.70" cy="127.80" r="1.9" fill="#41608c"/>
<circle cx="397.30" cy="128.20" r="1.9" fill="#41608c"/>
<circle cx="394.30" cy="128.60" r="1.9" fill="#41608c"/>
<circle cx="388.40" cy="133.00" r="1.9" fill="#41608c"/>
<circle cx="393.20" cy="132.30" r="1.9" fill="#41608c"/>
<circle cx="395.80" cy="132.30" r="1.9" fill="#41608c"/>
<circle cx="400.60" cy="133.00" r="1.9" fill="#41608c"/>
<circle cx="387.70" cy="137.40" r="1.9" fill="#41608c"/>
<circle cx="391.40" cy="136.30" r="1.9" fill="#41608c"/>
<circle cx="397.60" cy="137.00" r="1.9" fill="#41608c"/>
<circle cx="400.60" cy="137.80" r="1.9" fill="#41608c"/>
<circle cx="389.50" cy="140.40" r="1.9" fill="#41608c"/>
<circle cx="393.60" cy="140.00" r="1.9" fill="#41608c"/>
<circle cx="397.30" cy="140.40" r="1.9" fill="#41608c"/>
<circle cx="399.10" cy="139.30" r="1.9" fill="#41608c"/>
<circle cx="395.10" cy="144.40" r="1.9" fill="#41608c"/>
<circle cx="391.40" cy="145.90" r="1.9" fill="#41608c"/>
<circle cx="394.70" cy="147.40" r="1.9" fill="#41608c"/>
<circle cx="393.20" cy="149.60" r="1.9" fill="#41608c"/>
<circle cx="393.70" cy="176.50" r="1.9" fill="#41608c"/>
<line x1="386.60" y1="134.10" x2="402.00" y2="134.10" stroke="#000" stroke-width="1.6"/>
<rect x="416.10" y="72.30" width="3.4" height="3.4" fill="#41608c"/>
<rect x="415.80" y="115.50" width="3.4" height="3.4" fill="#41608c"/>
<rect x="413.40" y="122.80" width="5.30" height="2.60" fill="#41608c" stroke="none" stroke-width="0"/>
<rect x="413.10" y="125.00" width="8.40" height="16.00" fill="#41608c" stroke="none" stroke-width="0"/>
<rect x="411.00" y="131.00" width="12.20" height="4.10" fill="#41608c" stroke="none" stroke-width="0"/>
<rect x="414.80" y="142.00" width="4.90" height="4.30" fill="#41608c" stroke="none" stroke-width="0"/>
<line x1="409.70" y1="131.70" x2="425.50" y2="131.70" stroke="#000" stroke-width="1.6"/>
<polygon points="440.50,126.12 442.70,130.08 438.30,130.08" fill="#41608c"/>
<polygon points="440.50,132.02 442.70,135.98 438.30,135.98" fill="#41608c"/>
<polygon points="440.50,134.22 442.70,138.18 438.30,138.18" fill="#41608c"/>
<polygon points="436.80,138.22 439.00,142.18 434.60,142.18" fill="#41608c"/>
<polygon points="440.20,138.22 442.40,142.18 438.00,142.18" fill="#41608c"/>
<polygon points="445.00,138.22 447.20,142.18 442.80,142.18" fill="#41608c"/>
<polygon points="435.00,140.42 437.20,144.38 432.80,144.38" fill="#41608c"/>
<polygon points="447.20,140.42 449.40,144.38 445.00,144.38" fill="#41608c"/>
<polygon points="437.60,144.52 439.80,148.48 435.40,148.48" fill="#41608c"/>
<polygon points="441.30,144.52 443.50,148.48 439.10,148.48" fill="#41608c"/>
<polygon points="443.80,146.02 446.00,149.98 441.60,149.98" fill="#41608c"/>
<polygon points="439.00,147.82 441.20,151.78 436.80,151.78" fill="#41608c"/>
<polygon points="442.70,148.62 444.90,152.58 440.50,152.58" fill="#41608c"/>
<polygon points="438.30,150.82 440.50,154.78 436.10,154.78" fill="#41608c"/>
<polygon points="442.00,151.12 444.20,155.08 439.80,155.08" fill="#41608c"/>
<line x1="432.40" y1="144.70" x2="448.30" y2="144.70" stroke="#000" stroke-width="1.6"/>
<line x1="456.60" y1="110.90" x2="470.50" y2="110.90" stroke="#000" stroke-width="1.2"/>
<line x1="482.50" y1="111.20" x2="491.00" y2="111.20" stroke="#000" stroke-width="1.5"/>
<circle cx="465.6" cy="104.9" r="1.95" fill="#96ca86" stroke="#62a852" stroke-width="0.9" opacity="0.95"/>
<circle cx="457.5" cy="107.9" r="1.95" fill="#96ca86" stroke="#62a852" stroke-width="0.9" opacity="0.95"/>
<circle cx="461.7" cy="109.3" r="1.95" fill="#96ca86" stroke="#62a852" stroke-width="0.9" opacity="0.95"/>
<circle cx="457.5" cy="111.8" r="1.95" fill="#96ca86" stroke="#62a852" stroke-width="0.9" opacity="0.95"/>
<circle cx="465.6" cy="110.7" r="1.95" fill="#96ca86" stroke="#62a852" stroke-width="0.9" opacity="0.95"/>
<circle cx="469.8" cy="111.4" r="1.95" fill="#96ca86" stroke="#62a852" stroke-width="0.9" opacity="0.95"/>
<circle cx="461.7" cy="115.8" r="1.95" fill="#96ca86" stroke="#62a852" stroke-width="0.9" opacity="0.95"/>
<circle cx="465.6" cy="114.6" r="1.95" fill="#96ca86" stroke="#62a852" stroke-width="0.9" opacity="0.95"/>
<rect x="478.85" y="102.65" width="3.7" height="3.7" fill="#96ca86" stroke="#62a852" stroke-width="0.9" opacity="0.95"/>
<rect x="484.75" y="101.65" width="3.7" height="3.7" fill="#96ca86" stroke="#62a852" stroke-width="0.9" opacity="0.95"/>
<rect x="490.95" y="100.05" width="3.7" height="3.7" fill="#96ca86" stroke="#62a852" stroke-width="0.9" opacity="0.95"/>
<rect x="478.85" y="107.85" width="3.7" height="3.7" fill="#96ca86" stroke="#62a852" stroke-width="0.9" opacity="0.95"/>
<rect x="484.75" y="111.95" width="3.7" height="3.7" fill="#96ca86" stroke="#62a852" stroke-width="0.9" opacity="0.95"/>
<rect x="490.95" y="110.15" width="3.7" height="3.7" fill="#96ca86" stroke="#62a852" stroke-width="0.9" opacity="0.95"/>
<rect x="490.95" y="114.25" width="3.7" height="3.7" fill="#96ca86" stroke="#62a852" stroke-width="0.9" opacity="0.95"/>
<rect x="478.85" y="117.65" width="3.7" height="3.7" fill="#96ca86" stroke="#62a852" stroke-width="0.9" opacity="0.95"/>
<line x1="22.50" y1="288.00" x2="22.50" y2="309.00" stroke="#000" stroke-width="1.0"/>
<line x1="47.50" y1="288.00" x2="47.50" y2="309.00" stroke="#000" stroke-width="1.0"/>
<line x1="73.50" y1="288.00" x2="73.50" y2="309.00" stroke="#000" stroke-width="1.0"/>
<line x1="100.50" y1="288.00" x2="100.50" y2="309.00" stroke="#000" stroke-width="1.0"/>
<line x1="126.50" y1="288.00" x2="126.50" y2="309.00" stroke="#000" stroke-width="1.0"/>
<line x1="159.50" y1="288.00" x2="159.50" y2="309.00" stroke="#000" stroke-width="1.0"/>
<line x1="193.50" y1="288.00" x2="193.50" y2="309.00" stroke="#000" stroke-width="1.0"/>
<line x1="226.50" y1="288.00" x2="226.50" y2="309.00" stroke="#000" stroke-width="1.0"/>
<line x1="22.00" y1="288.50" x2="227.00" y2="288.50" stroke="#000" stroke-width="1.0"/>
<line x1="22.00" y1="298.50" x2="227.00" y2="298.50" stroke="#000" stroke-width="1.0"/>
<line x1="22.00" y1="308.50" x2="227.00" y2="308.50" stroke="#000" stroke-width="1.0"/>
<line x1="22.00" y1="309.30" x2="227.00" y2="309.30" stroke="#000" stroke-width="0.6"/>
<text x="34.85" y="305.70" font-size="6.7" text-anchor="middle" fill="#333" textLength="17.58" lengthAdjust="spacingAndGlyphs" >Median</text>
<text x="60.65" y="295.60" font-size="6.7" text-anchor="middle" fill="#333" textLength="14.30" lengthAdjust="spacingAndGlyphs" >NHP1</text>
<text x="60.65" y="305.70" font-size="6.7" text-anchor="middle" fill="#333" textLength="17.89" lengthAdjust="spacingAndGlyphs" >305577</text>
<text x="87.15" y="295.60" font-size="6.7" text-anchor="middle" fill="#333" textLength="14.30" lengthAdjust="spacingAndGlyphs" >NHP2</text>
<text x="87.15" y="305.70" font-size="6.7" text-anchor="middle" fill="#333" textLength="17.89" lengthAdjust="spacingAndGlyphs" >629204</text>
<text x="113.60" y="295.60" font-size="6.7" text-anchor="middle" fill="#333" textLength="14.30" lengthAdjust="spacingAndGlyphs" >NHP3</text>
<text x="113.60" y="305.70" font-size="6.7" text-anchor="middle" fill="#333" textLength="17.89" lengthAdjust="spacingAndGlyphs" >844097</text>
<text x="143.20" y="295.60" font-size="6.7" text-anchor="middle" fill="#333" textLength="25.47" lengthAdjust="spacingAndGlyphs" >NHP4 + IA</text>
<text x="143.20" y="305.70" font-size="6.7" text-anchor="middle" fill="#333" textLength="17.89" lengthAdjust="spacingAndGlyphs" >250682</text>
<text x="176.35" y="295.60" font-size="6.7" text-anchor="middle" fill="#333" textLength="25.47" lengthAdjust="spacingAndGlyphs" >NHP5 + IA</text>
<text x="176.35" y="305.70" font-size="6.7" text-anchor="middle" fill="#333" textLength="17.89" lengthAdjust="spacingAndGlyphs" >920470</text>
<text x="209.80" y="295.60" font-size="6.7" text-anchor="middle" fill="#333" textLength="25.47" lengthAdjust="spacingAndGlyphs" >NHP6 + IA</text>
<text x="209.80" y="305.70" font-size="6.7" text-anchor="middle" fill="#333" textLength="17.89" lengthAdjust="spacingAndGlyphs" >499449</text>
<line x1="263.50" y1="288.00" x2="263.50" y2="309.00" stroke="#000" stroke-width="1.0"/>
<line x1="287.50" y1="288.00" x2="287.50" y2="309.00" stroke="#000" stroke-width="1.0"/>
<line x1="309.50" y1="288.00" x2="309.50" y2="309.00" stroke="#000" stroke-width="1.0"/>
<line x1="332.50" y1="288.00" x2="332.50" y2="309.00" stroke="#000" stroke-width="1.0"/>
<line x1="354.50" y1="288.00" x2="354.50" y2="309.00" stroke="#000" stroke-width="1.0"/>
<line x1="389.50" y1="288.00" x2="389.50" y2="309.00" stroke="#000" stroke-width="1.0"/>
<line x1="421.50" y1="288.00" x2="421.50" y2="309.00" stroke="#000" stroke-width="1.0"/>
<line x1="454.50" y1="288.00" x2="454.50" y2="309.00" stroke="#000" stroke-width="1.0"/>
<line x1="482.50" y1="288.00" x2="482.50" y2="309.00" stroke="#000" stroke-width="1.0"/>
<line x1="509.50" y1="288.00" x2="509.50" y2="309.00" stroke="#000" stroke-width="1.0"/>
<line x1="263.00" y1="288.50" x2="510.00" y2="288.50" stroke="#000" stroke-width="1.0"/>
<line x1="263.00" y1="298.50" x2="510.00" y2="298.50" stroke="#000" stroke-width="1.0"/>
<line x1="263.00" y1="308.50" x2="510.00" y2="308.50" stroke="#000" stroke-width="1.0"/>
<line x1="263.00" y1="309.30" x2="510.00" y2="309.30" stroke="#000" stroke-width="0.6"/>
<text x="275.40" y="305.10" font-size="6.4" text-anchor="middle" fill="#333" textLength="16.79" lengthAdjust="spacingAndGlyphs" >Median</text>
<text x="298.25" y="295.80" font-size="6.4" text-anchor="middle" fill="#333" textLength="13.66" lengthAdjust="spacingAndGlyphs" >NHP1</text>
<text x="298.25" y="305.10" font-size="6.4" text-anchor="middle" fill="#333" textLength="13.86" lengthAdjust="spacingAndGlyphs" >11505</text>
<text x="320.75" y="295.80" font-size="6.4" text-anchor="middle" fill="#333" textLength="13.66" lengthAdjust="spacingAndGlyphs" >NHP2</text>
<text x="320.75" y="305.10" font-size="6.4" text-anchor="middle" fill="#333" textLength="11.39" lengthAdjust="spacingAndGlyphs" >4877</text>
<text x="343.25" y="295.80" font-size="6.4" text-anchor="middle" fill="#333" textLength="13.66" lengthAdjust="spacingAndGlyphs" >NHP3</text>
<text x="343.25" y="305.10" font-size="6.4" text-anchor="middle" fill="#333" textLength="11.39" lengthAdjust="spacingAndGlyphs" >9284</text>
<text x="371.80" y="295.80" font-size="6.4" text-anchor="middle" fill="#333" textLength="24.33" lengthAdjust="spacingAndGlyphs" >NHP4 + IA</text>
<text x="371.80" y="305.10" font-size="6.4" text-anchor="middle" fill="#333" textLength="17.09" lengthAdjust="spacingAndGlyphs" >258658</text>
<text x="405.05" y="295.80" font-size="6.4" text-anchor="middle" fill="#333" textLength="24.33" lengthAdjust="spacingAndGlyphs" >NHP5 + IA</text>
<text x="405.05" y="305.10" font-size="6.4" text-anchor="middle" fill="#333" textLength="17.09" lengthAdjust="spacingAndGlyphs" >314910</text>
<text x="437.50" y="295.80" font-size="6.4" text-anchor="middle" fill="#333" textLength="24.33" lengthAdjust="spacingAndGlyphs" >NHP6 + IA</text>
<text x="437.50" y="305.10" font-size="6.4" text-anchor="middle" fill="#333" textLength="17.09" lengthAdjust="spacingAndGlyphs" >135677</text>
<text x="468.05" y="295.80" font-size="6.4" text-anchor="middle" fill="#333" textLength="19.64" lengthAdjust="spacingAndGlyphs" >control 1</text>
<text x="468.05" y="305.10" font-size="6.4" text-anchor="middle" fill="#333" textLength="19.55" lengthAdjust="spacingAndGlyphs" >1190000</text>
<text x="496.00" y="295.80" font-size="6.4" text-anchor="middle" fill="#333" textLength="19.64" lengthAdjust="spacingAndGlyphs" >control 2</text>
<text x="496.00" y="305.10" font-size="6.4" text-anchor="middle" fill="#333" textLength="19.93" lengthAdjust="spacingAndGlyphs" >1200000</text>
<text x="11.30" y="348.30" font-size="15.3" text-anchor="start" fill="#111" textLength="10.40" lengthAdjust="spacingAndGlyphs" >C</text>
<text x="0" y="0" font-size="10.8" fill="#1a1a1a" stroke="#1a1a1a" stroke-width="0.15" text-anchor="middle" transform="translate(23.8 425.0) rotate(-90)" textLength="114.3" lengthAdjust="spacingAndGlyphs">SEAP-vectorDNA gc/µg</text>
<text x="0" y="0" font-size="10.8" fill="#1a1a1a" stroke="#1a1a1a" stroke-width="0.15" text-anchor="middle" transform="translate(38.5 424.3) rotate(-90)" textLength="47" lengthAdjust="spacingAndGlyphs">total DNA</text>
<line x1="67.40" y1="369.50" x2="67.40" y2="476.90" stroke="#000" stroke-width="1.5"/>
<line x1="63.00" y1="476.20" x2="67.40" y2="476.20" stroke="#000" stroke-width="1.2"/>
<text x="56.70" y="479.50" font-size="9.3" text-anchor="end" fill="#1a1a1a" textLength="8.20" lengthAdjust="spacingAndGlyphs" >10</text>
<text x="57.00" y="476.15" font-size="4.6" text-anchor="start" fill="#5a5a5a" >2</text>
<line x1="63.00" y1="459.08" x2="67.40" y2="459.08" stroke="#000" stroke-width="1.2"/>
<text x="56.70" y="462.38" font-size="9.3" text-anchor="end" fill="#1a1a1a" textLength="8.20" lengthAdjust="spacingAndGlyphs" >10</text>
<text x="57.00" y="459.04" font-size="4.6" text-anchor="start" fill="#5a5a5a" >3</text>
<line x1="63.00" y1="441.97" x2="67.40" y2="441.97" stroke="#000" stroke-width="1.2"/>
<text x="56.70" y="445.27" font-size="9.3" text-anchor="end" fill="#1a1a1a" textLength="8.20" lengthAdjust="spacingAndGlyphs" >10</text>
<text x="57.00" y="441.92" font-size="4.6" text-anchor="start" fill="#5a5a5a" >4</text>
<line x1="63.00" y1="424.85" x2="67.40" y2="424.85" stroke="#000" stroke-width="1.2"/>
<text x="56.70" y="428.15" font-size="9.3" text-anchor="end" fill="#1a1a1a" textLength="8.20" lengthAdjust="spacingAndGlyphs" >10</text>
<text x="57.00" y="424.80" font-size="4.6" text-anchor="start" fill="#5a5a5a" >5</text>
<line x1="63.00" y1="407.73" x2="67.40" y2="407.73" stroke="#000" stroke-width="1.2"/>
<text x="56.70" y="411.03" font-size="9.3" text-anchor="end" fill="#1a1a1a" textLength="8.20" lengthAdjust="spacingAndGlyphs" >10</text>
<text x="57.00" y="407.69" font-size="4.6" text-anchor="start" fill="#5a5a5a" >6</text>
<line x1="63.00" y1="390.62" x2="67.40" y2="390.62" stroke="#000" stroke-width="1.2"/>
<text x="56.70" y="393.92" font-size="9.3" text-anchor="end" fill="#1a1a1a" textLength="8.20" lengthAdjust="spacingAndGlyphs" >10</text>
<text x="57.00" y="390.57" font-size="4.6" text-anchor="start" fill="#5a5a5a" >7</text>
<line x1="63.00" y1="373.50" x2="67.40" y2="373.50" stroke="#000" stroke-width="1.2"/>
<text x="56.70" y="376.80" font-size="9.3" text-anchor="end" fill="#1a1a1a" textLength="8.20" lengthAdjust="spacingAndGlyphs" >10</text>
<text x="57.00" y="373.45" font-size="4.6" text-anchor="start" fill="#5a5a5a" >8</text>
<rect x="90.60" y="412.20" width="41.70" height="64.00" fill="#9d3445" stroke="#8a2436" stroke-width="0.9"/>
<line x1="111.40" y1="409.50" x2="111.40" y2="412.20" stroke="#222" stroke-width="1.1"/>
<line x1="100.20" y1="409.50" x2="122.70" y2="409.50" stroke="#222" stroke-width="1.2"/>
<rect x="156.30" y="414.00" width="41.60" height="62.20" fill="#4b6488" stroke="#2f4a72" stroke-width="0.9"/>
<line x1="177.10" y1="411.50" x2="177.10" y2="414.00" stroke="#222" stroke-width="1.1"/>
<line x1="166.00" y1="411.50" x2="188.20" y2="411.50" stroke="#222" stroke-width="1.2"/>
<line x1="66.70" y1="476.20" x2="221.90" y2="476.20" stroke="#000" stroke-width="1.5"/>
<line x1="111.20" y1="476.20" x2="111.20" y2="480.80" stroke="#000" stroke-width="1.1"/>
<line x1="176.90" y1="476.20" x2="176.90" y2="480.80" stroke="#000" stroke-width="1.1"/>
<rect x="67.30" y="496.50" width="10.40" height="4.30" fill="#9d3445" stroke="none" stroke-width="0"/>
<rect x="67.30" y="512.30" width="10.40" height="4.00" fill="#4b6488" stroke="none" stroke-width="0"/>
<text x="81.50" y="501.30" font-size="8.6" text-anchor="start" fill="#1a1a1a" textLength="69.00" lengthAdjust="spacingAndGlyphs" stroke="#1a1a1a" stroke-width="0.12">NHP1, NHP2, NHP3</text>
<text x="81.50" y="517.20" font-size="8.6" text-anchor="start" fill="#1a1a1a" textLength="69.80" lengthAdjust="spacingAndGlyphs" stroke="#1a1a1a" stroke-width="0.12">NHP4, NHP5, NHP6</text>
<rect x="277.50" y="337.50" width="7.50" height="8.50" fill="#fff" stroke="none" stroke-width="0"/>
<text x="276.00" y="347.40" font-size="15.3" text-anchor="start" fill="#111" textLength="10.60" lengthAdjust="spacingAndGlyphs" >D</text>
<text x="0" y="0" font-size="10.9" fill="#1a1a1a" stroke="#1a1a1a" stroke-width="0.15" transform="translate(284.6 500.4) rotate(-90)" textLength="158.4" lengthAdjust="spacingAndGlyphs">FIX-vector DNA gc/µg total DNA</text>
<line x1="313.40" y1="362.00" x2="313.40" y2="476.90" stroke="#000" stroke-width="1.5"/>
<line x1="309.00" y1="476.20" x2="313.40" y2="476.20" stroke="#000" stroke-width="1.2"/>
<text x="303.00" y="479.90" font-size="9.4" text-anchor="end" fill="#1a1a1a" textLength="9.10" lengthAdjust="spacingAndGlyphs" >10</text>
<text x="303.30" y="476.52" font-size="4.6" text-anchor="start" fill="#5a5a5a" >2</text>
<line x1="309.00" y1="457.83" x2="313.40" y2="457.83" stroke="#000" stroke-width="1.2"/>
<text x="303.00" y="461.53" font-size="9.4" text-anchor="end" fill="#1a1a1a" textLength="9.10" lengthAdjust="spacingAndGlyphs" >10</text>
<text x="303.30" y="458.15" font-size="4.6" text-anchor="start" fill="#5a5a5a" >3</text>
<line x1="309.00" y1="439.47" x2="313.40" y2="439.47" stroke="#000" stroke-width="1.2"/>
<text x="303.00" y="443.17" font-size="9.4" text-anchor="end" fill="#1a1a1a" textLength="9.10" lengthAdjust="spacingAndGlyphs" >10</text>
<text x="303.30" y="439.78" font-size="4.6" text-anchor="start" fill="#5a5a5a" >4</text>
<line x1="309.00" y1="421.10" x2="313.40" y2="421.10" stroke="#000" stroke-width="1.2"/>
<text x="303.00" y="424.80" font-size="9.4" text-anchor="end" fill="#1a1a1a" textLength="9.10" lengthAdjust="spacingAndGlyphs" >10</text>
<text x="303.30" y="421.42" font-size="4.6" text-anchor="start" fill="#5a5a5a" >5</text>
<line x1="309.00" y1="402.73" x2="313.40" y2="402.73" stroke="#000" stroke-width="1.2"/>
<text x="303.00" y="406.43" font-size="9.4" text-anchor="end" fill="#1a1a1a" textLength="9.10" lengthAdjust="spacingAndGlyphs" >10</text>
<text x="303.30" y="403.05" font-size="4.6" text-anchor="start" fill="#5a5a5a" >6</text>
<line x1="309.00" y1="384.37" x2="313.40" y2="384.37" stroke="#000" stroke-width="1.2"/>
<text x="303.00" y="388.07" font-size="9.4" text-anchor="end" fill="#1a1a1a" textLength="9.10" lengthAdjust="spacingAndGlyphs" >10</text>
<text x="303.30" y="384.68" font-size="4.6" text-anchor="start" fill="#5a5a5a" >7</text>
<line x1="309.00" y1="366.00" x2="313.40" y2="366.00" stroke="#000" stroke-width="1.2"/>
<text x="303.00" y="369.70" font-size="9.4" text-anchor="end" fill="#1a1a1a" textLength="9.10" lengthAdjust="spacingAndGlyphs" >10</text>
<text x="303.30" y="366.32" font-size="4.6" text-anchor="start" fill="#5a5a5a" >8</text>
<rect x="331.20" y="441.20" width="30.40" height="34.90" fill="#9d3445" stroke="#8a2436" stroke-width="0.9"/>
<line x1="346.40" y1="438.80" x2="346.40" y2="441.20" stroke="#222" stroke-width="1.1"/>
<line x1="338.00" y1="438.80" x2="354.60" y2="438.80" stroke="#222" stroke-width="1.2"/>
<rect x="380.40" y="414.90" width="31.00" height="61.20" fill="#4b6488" stroke="#2f4a72" stroke-width="0.9"/>
<line x1="395.90" y1="413.00" x2="395.90" y2="414.90" stroke="#222" stroke-width="1.1"/>
<line x1="387.00" y1="413.00" x2="404.20" y2="413.00" stroke="#222" stroke-width="1.2"/>
<rect x="430.20" y="402.90" width="30.40" height="73.20" fill="#73a85d" stroke="#63984e" stroke-width="0.9"/>
<line x1="312.70" y1="476.10" x2="479.00" y2="476.10" stroke="#000" stroke-width="1.5"/>
<line x1="346.40" y1="476.10" x2="346.40" y2="480.80" stroke="#000" stroke-width="1.1"/>
<line x1="395.90" y1="476.10" x2="395.90" y2="480.80" stroke="#000" stroke-width="1.1"/>
<line x1="445.40" y1="476.10" x2="445.40" y2="480.80" stroke="#000" stroke-width="1.1"/>
<line x1="346.25" y1="378.75" x2="393.75" y2="378.75" stroke="#333" stroke-width="1.2"/>
<line x1="346.25" y1="375.00" x2="346.25" y2="382.50" stroke="#333" stroke-width="1.2"/>
<line x1="393.75" y1="375.00" x2="393.75" y2="382.50" stroke="#333" stroke-width="1.2"/>
<line x1="397.00" y1="378.75" x2="447.00" y2="378.75" stroke="#333" stroke-width="1.2"/>
<line x1="397.00" y1="375.00" x2="397.00" y2="382.50" stroke="#333" stroke-width="1.2"/>
<line x1="447.00" y1="375.00" x2="447.00" y2="382.50" stroke="#333" stroke-width="1.2"/>
<text x="358.00" y="372.50" font-size="8.4" text-anchor="start" fill="#1a1a1a" textLength="24.50" lengthAdjust="spacingAndGlyphs" stroke="#1a1a1a" stroke-width="0.12">27.86x</text>
<text x="412.00" y="372.50" font-size="8.4" text-anchor="start" fill="#1a1a1a" textLength="20.00" lengthAdjust="spacingAndGlyphs" stroke="#1a1a1a" stroke-width="0.12">4.62x</text>
<rect x="312.70" y="496.50" width="10.80" height="4.20" fill="#9d3445" stroke="none" stroke-width="0"/>
<rect x="312.70" y="512.70" width="10.80" height="3.60" fill="#4b6488" stroke="none" stroke-width="0"/>
<rect x="312.70" y="527.70" width="10.80" height="3.60" fill="#73a85d" stroke="none" stroke-width="0"/>
<text x="327.70" y="501.80" font-size="8.6" text-anchor="start" fill="#1a1a1a" textLength="69.00" lengthAdjust="spacingAndGlyphs" stroke="#1a1a1a" stroke-width="0.12">NHP1, NHP2, NHP3</text>
<text x="327.70" y="517.30" font-size="8.6" text-anchor="start" fill="#1a1a1a" textLength="69.80" lengthAdjust="spacingAndGlyphs" stroke="#1a1a1a" stroke-width="0.12">NHP4, NHP5, NHP6</text>
<text x="327.70" y="532.80" font-size="8.6" text-anchor="start" fill="#1a1a1a" textLength="66.00" lengthAdjust="spacingAndGlyphs" stroke="#1a1a1a" stroke-width="0.12">NHPs controls 1, 2</text>
</svg>
</body></html>
